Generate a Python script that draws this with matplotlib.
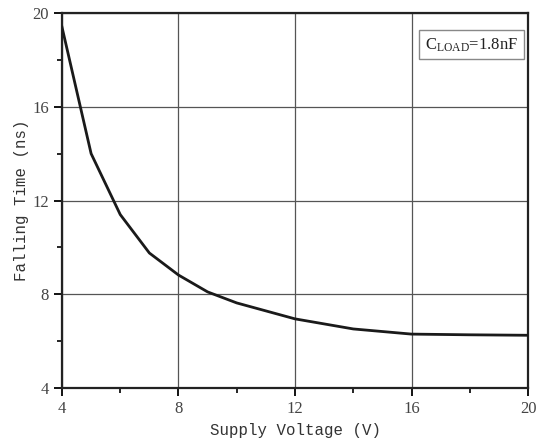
import numpy as np
import matplotlib.pyplot as plt
from matplotlib.ticker import MultipleLocator

plt.rcParams['mathtext.fontset'] = 'custom'
plt.rcParams['mathtext.rm'] = 'Liberation Serif'

# supply voltage (V) vs falling time (ns), C_LOAD = 1.8nF
voltage = [4, 5, 6, 7, 8, 9, 10, 12, 14, 16, 18, 20]
fall_time = [19.4, 14.0, 11.4, 9.76, 8.82, 8.1, 7.63, 6.95, 6.52, 6.3, 6.27, 6.25]

fig = plt.figure(figsize=(5.4, 4.48), dpi=100)
ax = fig.add_axes([0.1148, 0.1339, 0.863, 0.8371])

ax.plot(voltage, fall_time, color='#1a1a1a', lw=2.0, zorder=3)

ax.set_xlim(4, 20)
ax.set_ylim(4, 20)
ax.xaxis.set_major_locator(MultipleLocator(4))
ax.xaxis.set_minor_locator(MultipleLocator(2))
ax.yaxis.set_major_locator(MultipleLocator(4))
ax.yaxis.set_minor_locator(MultipleLocator(2))
ax.grid(True, which='major', color='#555555', lw=0.9)

for s in ax.spines.values():
    s.set_linewidth(1.6)
    s.set_color('#222222')

ax.tick_params(which='major', direction='out', length=6, width=1.3,
               labelsize=12, labelcolor='#444444')
ax.tick_params(which='minor', direction='out', length=3.5, width=1.2)
for lab in ax.get_xticklabels() + ax.get_yticklabels():
    lab.set_fontfamily('Liberation Serif')

ax.set_xlabel('Supply Voltage (V)', fontfamily='Liberation Mono', fontsize=11.3,
              color='#333333', labelpad=4)
ax.set_ylabel('Falling Time (ns)', fontfamily='Liberation Mono', fontsize=11.3,
              color='#333333', labelpad=2)

ax.text(0.978, 0.915, r'$\mathrm{C_{LOAD}}$=1.8nF', transform=ax.transAxes,
        ha='right', va='center', fontsize=12, fontfamily='Liberation Serif',
        color='#222222',
        bbox=dict(boxstyle='square,pad=0.35', fc='white', ec='#888888', lw=1))

fig.savefig('out.png', dpi=100)
